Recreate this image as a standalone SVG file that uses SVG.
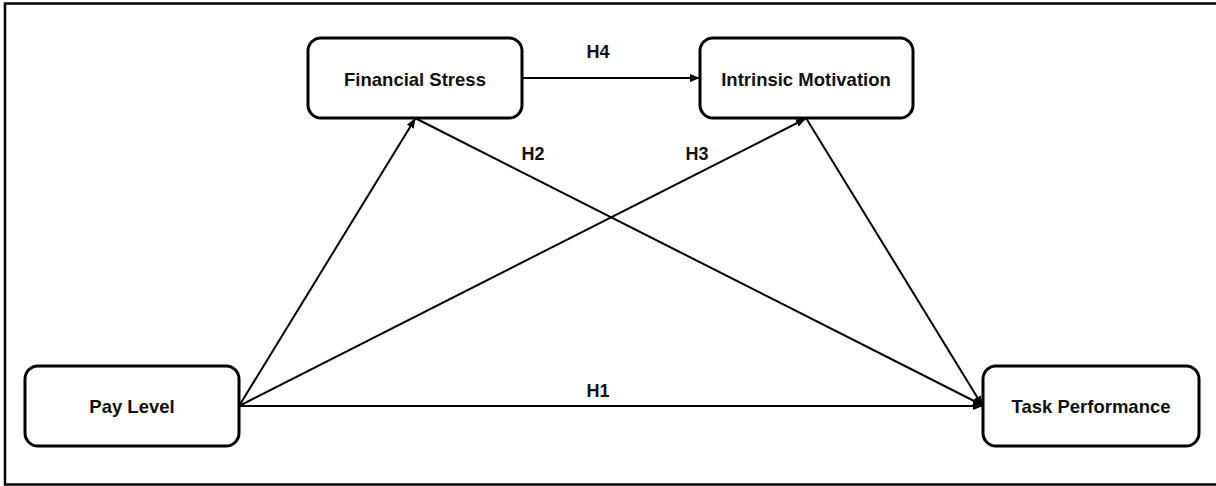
<svg xmlns="http://www.w3.org/2000/svg" width="1216" height="486" viewBox="0 0 1216 486">
  <style>
    .box { fill: #ffffff; stroke: #000000; stroke-width: 3; }
    .lbl { font-family: "Liberation Sans", Arial, sans-serif; font-weight: bold; font-size: 18.5px; fill: #111111; text-anchor: middle; }
    .h { font-family: "Liberation Sans", Arial, sans-serif; font-weight: bold; font-size: 18px; fill: #111111; text-anchor: middle; }
    .edge { stroke: #000000; stroke-width: 2; fill: none; marker-end: url(#arr); }
  </style>
  <defs>
    <marker id="arr" markerUnits="userSpaceOnUse" markerWidth="10" markerHeight="8" refX="9" refY="4" orient="auto">
      <path d="M0,0 L10,4 L0,8 Z" fill="#000000"/>
    </marker>
  </defs>
  <rect x="0" y="0" width="1216" height="486" fill="#ffffff"/>
  <rect id="frame" x="5" y="3.5" width="1220" height="481" fill="none" stroke="#000000" stroke-width="2.5"/>

  <g id="connectors">
    <line class="edge" x1="239" y1="406" x2="415" y2="119"/>
    <line class="edge" x1="239" y1="406" x2="805" y2="119"/>
    <line class="edge" x1="239" y1="406" x2="982" y2="406"/>
    <line class="edge" x1="415" y1="118" x2="982" y2="405"/>
    <line class="edge" x1="806" y1="118" x2="982" y2="405"/>
    <line class="edge" x1="522" y1="78" x2="699" y2="78"/>
    <text class="h" x="598" y="58">H4</text>
    <text class="h" x="533" y="160">H2</text>
    <text class="h" x="697" y="160">H3</text>
    <text class="h" x="598" y="397">H1</text>
  </g>

  <g id="financial-stress">
    <rect class="box" x="308" y="38" width="214" height="80" rx="13"/>
    <text class="lbl" x="415" y="86">Financial Stress</text>
  </g>
  <g id="intrinsic-motivation">
    <rect class="box" x="700" y="38" width="213" height="80" rx="13"/>
    <text class="lbl" x="806" y="86">Intrinsic Motivation</text>
  </g>
  <g id="pay-level">
    <rect class="box" x="25" y="366" width="214" height="80" rx="13"/>
    <text class="lbl" x="132" y="413">Pay Level</text>
  </g>
  <g id="task-performance">
    <rect class="box" x="983" y="366" width="216" height="80" rx="13"/>
    <text class="lbl" x="1091" y="413">Task Performance</text>
  </g>
</svg>
